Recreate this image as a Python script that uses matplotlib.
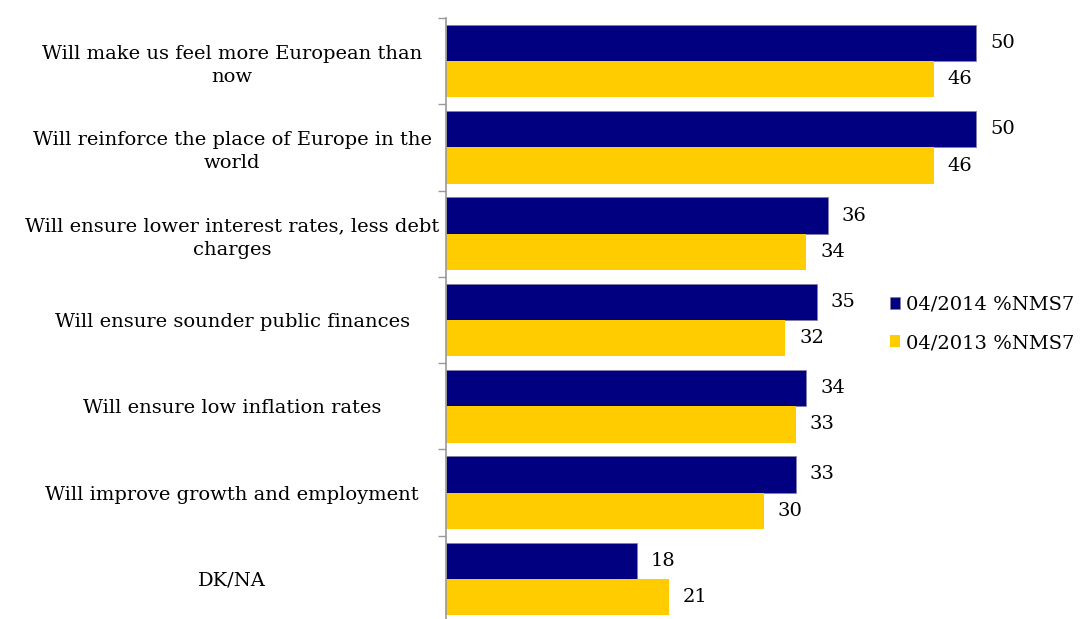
import numpy as np
import matplotlib
matplotlib.use("Agg")
import matplotlib.pyplot as plt

categories = [
    "Will make us feel more European than\nnow",
    "Will reinforce the place of Europe in the\nworld",
    "Will ensure lower interest rates, less debt\ncharges",
    "Will ensure sounder public finances",
    "Will ensure low inflation rates",
    "Will improve growth and employment",
    "DK/NA",
]
vals_2014 = [50, 50, 36, 35, 34, 33, 18]
vals_2013 = [46, 46, 34, 32, 33, 30, 21]
series_names = ["04/2014 %NMS7", "04/2013 %NMS7"]

NAVY, GOLD = "#000080", "#FFCC00"
plt.rcParams["font.family"] = ["DejaVu Serif"]

W, H = 1091, 619
fig = plt.figure(figsize=(W / 100, H / 100), dpi=100)
ax = fig.add_axes([446 / W, 1 - 622 / H, (1082 - 446) / W, (622 - 18) / H])

y = np.arange(len(categories))
h = 0.42
b1 = ax.barh(y - h / 2, vals_2014, height=h, color=NAVY, edgecolor="#8080a0", lw=0.5,
             label=series_names[0])
b2 = ax.barh(y + h / 2, vals_2013, height=h, color=GOLD, lw=0, label=series_names[1])
for bars, vals in ((b1, vals_2014), (b2, vals_2013)):
    for r, v in zip(bars, vals):
        ax.annotate(f"{v}", (v, r.get_y() + r.get_height() / 2), xytext=(10, 0),
                    textcoords="offset points", va="center", ha="left", fontsize=14)

ax.set_xlim(0, 60)
ax.set_ylim(len(categories) - 0.5, -0.5)
ax.set_xticks([])
ax.set_yticks(y)
ax.set_yticklabels(categories, fontsize=14, ha="center", multialignment="center",
                   linespacing=1.35)
ax.tick_params(axis="y", length=0, pad=0)
for lab in ax.get_yticklabels():
    lab.set_x(-0.336)
ax.set_yticks(np.arange(len(categories) + 1) - 0.5, minor=True)
ax.tick_params(axis="y", which="minor", length=6, color="#999999", width=1)
for s in ("top", "right", "bottom"):
    ax.spines[s].set_visible(False)
ax.spines["left"].set_color("#999999")
ax.spines["left"].set_linewidth(1.2)

fig.legend(handles=[b1, b2], loc="upper left", bbox_to_anchor=(882 / W, 1 - 288 / H),
           frameon=False, fontsize=14, handlelength=0.55, handleheight=0.55,
           handletextpad=0.3, labelspacing=1.05, borderaxespad=0)

fig.savefig("out.png", dpi=100)
